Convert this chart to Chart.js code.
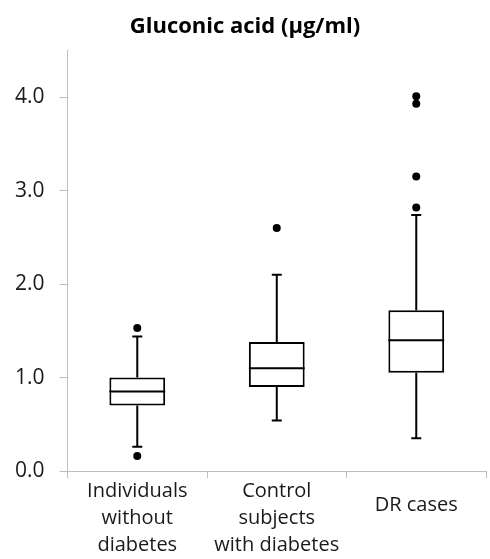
<!DOCTYPE html>
<html>
<head>
<meta charset="utf-8">
<script src="https://cdn.jsdelivr.net/npm/chart.js@4.4.0/dist/chart.umd.min.js"></script>
<style>
  html, body { margin: 0; padding: 0; background: #fff; }
  #wrap { width: 490px; height: 559px; }
</style>
</head>
<body>
<div id="wrap"><canvas id="boxChart"></canvas></div>
<script>
// values
const groups = [['Individuals', 'without', 'diabetes'], ['Control', 'subjects', 'with diabetes'], 'DR cases'];
const whiskerLow = [0.26, 0.54, 0.35];
const q1 = [0.70, 0.90, 1.05];
const median = [0.85, 1.10, 1.40];
const q3 = [1.00, 1.38, 1.72];
const whiskerHigh = [1.44, 2.10, 2.74];
const outliers = [[1.53, 0.16], [2.60], [4.01, 3.93, 3.15, 2.82]];
const yTicks = [0, 1, 2, 3, 4];

const axisGray = '#bfbfbf';
const textColor = '#1a1a1a';

// one point dataset per outlier rank, null where a group has fewer
const maxOut = Math.max(...outliers.map(o => o.length));
const outlierSets = [];
for (let k = 0; k < maxOut; k++) {
    outlierSets.push({
        type: 'line',
        data: outliers.map(o => (k < o.length ? o[k] : null)),
        showLine: false,
        pointRadius: 4,
        pointBackgroundColor: '#000',
        pointBorderWidth: 0,
        order: 0
    });
}

// whiskers, caps and median lines, placed with the chart's scales
const boxLines = {
    id: 'boxLines',
    afterDatasetsDraw(chart) {
        const ctx = chart.ctx;
        const x = chart.scales.x, y = chart.scales.y;
        const bars = chart.getDatasetMeta(0).data;
        ctx.save();
        ctx.strokeStyle = '#000';
        ctx.lineWidth = 2;
        groups.forEach((g, i) => {
            const cx = x.getPixelForValue(i);
            const half = bars[i].width / 2;
            const cap = 5;
            ctx.beginPath();
            // upper whisker
            ctx.moveTo(cx, y.getPixelForValue(q3[i]));
            ctx.lineTo(cx, y.getPixelForValue(whiskerHigh[i]));
            ctx.moveTo(cx - cap, y.getPixelForValue(whiskerHigh[i]));
            ctx.lineTo(cx + cap, y.getPixelForValue(whiskerHigh[i]));
            // lower whisker
            ctx.moveTo(cx, y.getPixelForValue(q1[i]));
            ctx.lineTo(cx, y.getPixelForValue(whiskerLow[i]));
            ctx.moveTo(cx - cap, y.getPixelForValue(whiskerLow[i]));
            ctx.lineTo(cx + cap, y.getPixelForValue(whiskerLow[i]));
            // median
            ctx.moveTo(cx - half, y.getPixelForValue(median[i]));
            ctx.lineTo(cx + half, y.getPixelForValue(median[i]));
            ctx.stroke();
        });
        ctx.restore();
    }
};

const ctx = document.getElementById('boxChart').getContext('2d');
const boxChart = new Chart(ctx, {
    type: 'bar',
    data: {
        labels: groups,
        datasets: [{
            data: q1.map((v, i) => [v, q3[i]]),
            backgroundColor: '#fff',
            borderColor: '#000',
            borderWidth: 2,
            borderSkipped: false,
            categoryPercentage: 1,
            barPercentage: 0.4,
            order: 1
        }, ...outlierSets]
    },
    options: {
        responsive: true,
        maintainAspectRatio: false,
        animation: false,
        layout: { padding: { left: 0, right: 0, top: 0, bottom: 0 } },
        plugins: {
            legend: { display: false },
            tooltip: { enabled: false },
            title: {
                display: true,
                text: 'Gluconic acid (μg/ml)',
                color: '#000',
                font: { family: 'Open Sans', size: 22, weight: 'bold', lineHeight: 1.2 },
                padding: { top: 14, bottom: 10 }
            }
        },
        scales: {
            x: {
                offset: true,
                grid: { display: true, drawOnChartArea: false, drawTicks: true, tickLength: 7, color: axisGray, offset: true },
                border: { color: axisGray, width: 1 },
                ticks: {
                    color: textColor,
                    padding: 0,
                    maxRotation: 0,
                    autoSkip: false,
                    font: (c) => ({ family: 'Open Sans', size: 20, lineHeight: c.index === 2 ? 2.7 : 1.35 })
                }
            },
            y: {
                min: 0,
                max: 4.5,
                afterBuildTicks: (scale) => { scale.ticks = yTicks.map(v => ({ value: v })); },
                grid: { display: true, drawOnChartArea: false, drawTicks: true, tickLength: 8, color: axisGray },
                border: { color: axisGray, width: 1 },
                ticks: {
                    color: textColor,
                    padding: 15,
                    font: { family: 'Open Sans', size: 21 },
                    callback: (v) => Number(v).toFixed(1)
                }
            }
        }
    },
    plugins: [boxLines]
});
</script>
</body>
</html>
